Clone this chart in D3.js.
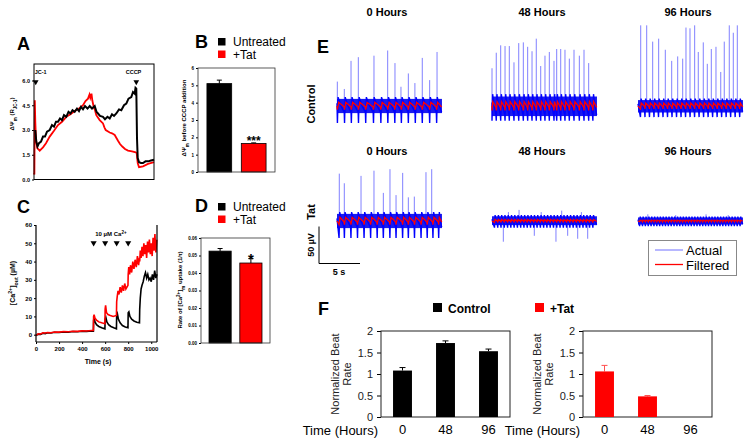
<!DOCTYPE html>
<html><head><meta charset="utf-8">
<script src="https://cdn.jsdelivr.net/npm/d3@7"></script>
<style>body{margin:0;background:#fff}svg{display:block;font-family:Arial,"Liberation Sans",sans-serif}</style>
</head><body><svg id="c" width="749" height="444"></svg>
<script>
// ---------------- DATA ----------------
// Panel A: delta Psi_m traces [time (a.u. s), R_JC-1]
const aRedTrace = [[0,0.4],[4,0.3],[8,4.8],[13,3.5],[20,2.4],[33,1.9],[57,1.75],[90,1.95],[120,2.2],[157,2.6],[200,2.95],[240,3.3],[280,3.5],[323,3.8],[365,3.95],[407,4.15],[450,4.3],[490,4.5],[515,4.75],[540,4.9],[555,5.15],[563,4.95],[575,5.2],[583,4.8],[597,4.4],[610,4.2],[623,3.9],[657,3.6],[690,3.4],[705,3.15],[717,3.0],[757,2.85],[780,2.8],[807,2.7],[840,2.35],[860,2.15],[883,2.0],[910,1.85],[940,1.75],[980,1.7],[1017,1.65],[1027,1.6],[1037,1.0],[1050,0.75],[1090,0.8],[1140,0.95],[1200,1.05]];
const aBlackTrace = [[13,3.0],[23,2.3],[35,2.0],[50,2.2],[70,2.3],[90,2.6],[110,2.6],[130,2.9],[157,3.0],[180,3.3],[200,3.2],[220,3.5],[240,3.5],[260,3.7],[280,3.6],[300,3.9],[323,3.8],[345,4.1],[365,4.0],[385,4.2],[407,4.1],[430,4.3],[450,4.15],[470,4.4],[490,4.25],[510,4.45],[535,4.3],[557,4.45],[580,4.3],[607,4.45],[625,4.1],[640,4.0],[660,3.85],[690,3.8],[710,3.65],[735,3.8],[757,3.7],[780,3.95],[800,3.85],[823,4.0],[850,4.25],[873,4.2],[900,4.5],[923,4.6],[945,4.9],[973,5.0],[990,5.3],[1007,5.2],[1015,5.55],[1023,5.5],[1030,2.5],[1037,1.3],[1050,1.05],[1070,1.0],[1090,1.0],[1115,1.1],[1140,1.1],[1170,1.15],[1200,1.2]];
const aYTicks = [0, 1.5, 3, 4.5, 6];
const aMarkerTimes = [17, 1023];
const aMarkerLabels = ["JC-1", "CCCP"];

// Panel B
const bCategories = ["Untreated", "+Tat"];
const bValues = [5.1, 1.65];
const bErrors = [0.2, 0.03];
const bYTicks = [0, 1, 2, 3, 4, 5, 6];

// Panel C: [time s, Ca µM]
const cBlackTrace = [[0,-0.5],[20,0.3],[40,0.2],[60,0.8],[80,0.6],[100,1],[130,0.9],[160,1.3],[200,1.2],[240,1.5],[280,1.4],[320,1.7],[360,1.6],[400,1.9],[440,1.8],[480,2.1],[498,2],[500,8],[505,9],[512,7],[525,5.5],[545,4.5],[570,3.8],[598,3.2],[600,8.5],[606,9.5],[615,7],[630,5.5],[650,4.5],[675,3.8],[698,3.2],[700,10.5],[706,11.5],[715,8.5],[730,6.5],[750,5],[775,4.2],[798,3.8],[800,12],[806,12.5],[815,10],[830,8.5],[850,7.5],[875,6.8],[898,6.5],[900,14],[905,20],[912,25],[920,27],[930,29],[940,32],[950,34],[960,31],[970,33],[980,30],[990,31],[1000,29],[1010,33],[1020,30],[1030,35],[1040,31],[1050,33]];
const cRedTrace = [[0,-0.3],[20,0.5],[40,0.4],[60,1],[80,0.9],[100,1.2],[130,1.1],[160,1.5],[200,1.4],[240,1.7],[280,1.6],[320,1.9],[360,1.8],[400,2.1],[440,2],[480,2.3],[498,2.3],[500,10],[504,11],[512,9],[525,8],[545,7],[570,6.5],[598,6],[600,14],[604,16],[612,12],[625,11],[645,10.5],[670,10],[698,10.5],[700,18],[705,21],[712,24],[720,22],[730,26],[740,23],[750,27],[760,24],[770,28],[780,25],[798,27],[800,33],[805,37],[812,33],[820,38],[830,34],[840,40],[850,36],[860,41],[870,37],[880,43],[890,38],[898,42],[900,40],[905,46],[912,42],[920,48],[928,43],[936,50],[944,44],[952,49],[960,42],[968,51],[976,45],[984,52],[992,44],[1000,50],[1008,43],[1016,53],[1024,46],[1032,55],[1040,45],[1048,52]];
const cXTicks = [0, 200, 400, 600, 800, 1000];
const cYTicks = [0, 10, 20, 30, 40, 50, 60];
const cAdditionTimes = [500, 600, 700, 800];

// Panel D
const dCategories = ["Untreated", "+Tat"];
const dValues = [0.0525, 0.0457];
const dErrors = [0.0015, 0.0025];
const dYTicks = [0, 0.01, 0.02, 0.03, 0.04, 0.05, 0.06];

// Panel E: recordings (time s, amplitude µV)
const eColumns = ["0 Hours", "48 Hours", "96 Hours"];
const eRowLabels = ["Control", "Tat"];
const eCtrl0SpikeT = [0.04,0.89,1.71,2.6,4.51,6.18,7.07,7.8,8.7,9.5,10.4,11.3,12.2];
const eCtrl0SpikeA = [33,23,61,66,68,75,58,26,44,31,65,35,73];
const eCtrl48SpikeT = [0,0.52,1.06,1.59,2.11,2.68,3.26,3.82,4.35,4.88,5.40,5.94,6.46,6.99,7.56,7.89,8.38,8.90,9.43,10.0,10.65,11.22,11.79];
const eCtrl48SpikeA = [51,72,82,81,81,59,85,86,80,74,91,54,68,73,61,77,77,76,64,76,68,76,58];
const eCtrl96SpikeT = [0.33,1.06,1.79,2.52,3.33,4.11,4.84,5.45,5.85,6.34,6.91,7.35,7.96,8.45,8.94,9.51,10.09,10.52,11.13,11.62,12.11];
const eCtrl96SpikeA = [109,109,87,91,76,61,67,64,106,105,109,73,86,57,77,80,46,87,109,99,109];
const eTat0SpikeT = [0.28,0.89,2.93,4.51,5.65,6.46,7.2,8.01,8.7,9.43,10.85,11.55];
const eTat0SpikeA = [64,51,61,68,38,70,35,65,32,33,66,70];
const eTat48SpikeT = [1.38,2.0,3.3,5.16,6.0,7.8,8.5,9.23,10.45,10.9,11.67];
const eTat48SpikeA = [-28,12,15,-20,12,-28,14,-20,-24,12,-24];
const eTat96SpikeT = [1.2,4.6,8.3,11.0];
const eTat96SpikeA = [9,8,9,8];
const eCtrl0Beats = [0.05,0.92,1.75,2.62,3.5,4.45,5.35,6.2,7.05,7.85,8.7,9.55,10.4,11.3,12.15];
const eCtrl48Beats = [0,0.52,1.06,1.59,2.11,2.68,3.26,3.82,4.35,4.88,5.40,5.94,6.46,6.99,7.56,7.89,8.38,8.90,9.43,10.0,10.65,11.22,11.79,12.3];
const eCtrl96Beats = [0.3,0.85,1.4,1.95,2.5,3.05,3.6,4.15,4.7,5.25,5.8,6.35,6.9,7.45,8.0,8.55,9.1,9.65,10.2,10.75,11.3,11.85,12.4];
const eTat0Beats = [0.25,0.9,1.7,2.5,3.3,4.1,4.9,5.65,6.45,7.2,8.0,8.7,9.45,10.25,11.0,11.7,12.4];
const eTat48Beats = [0.3,0.7,1.1,1.5,1.9,2.3,2.7,3.1,3.5,3.9,4.3,4.7,5.1,5.5,5.9,6.3,6.7,7.1,7.5,7.9,8.3,8.7,9.1,9.5,9.9,10.3,10.7,11.1,11.5,11.9,12.3];
const eTat96Beats = [0.2,0.55,0.9,1.25,1.6,1.95,2.3,2.65,3.0,3.35,3.7,4.05,4.4,4.75,5.1,5.45,5.8,6.15,6.5,6.85,7.2,7.55,7.9,8.25,8.6,8.95,9.3,9.65,10.0,10.35,10.7,11.05,11.4,11.75,12.1,12.45];
// band envelope per trace: [upper µV, lower µV, beat dip µV, filtered swing µV]
const eCtrl0Env = [12, 12, 23, 5];
const eCtrl48Env = [16, 17, 20, 6];
const eCtrl96Env = [10, 11, 15, 4];
const eTat0Env = [12, 12, 23, 5];
const eTat48Env = [8, 7, 9, 2];
const eTat96Env = [6, 6, 7, 1];
const eScaleBarUV = 50;
const eScaleBarS = 5;
const eLegend = ["Actual", "Filtered"];

// Panel F
const fCategories = ["0", "48", "96"];
const fControl = [1.08, 1.72, 1.53];
const fControlErr = [0.07, 0.05, 0.05];
const fTat = [1.06, 0.48, 0];
const fTatErr = [0.14, 0.02, 0];
const fYTicks = [0, 0.5, 1, 1.5, 2];
const fLegend = ["Control", "+Tat"];

// ---------------- DRAWING ----------------
const svg = d3.select("#c");
svg.append("rect").attr("width", 749).attr("height", 444).attr("fill", "#fff");
const RED = "#ff0000";

function letter(x, y, t) {
  svg.append("text").attr("x", x).attr("y", y).attr("font-size", 18).attr("font-weight", "bold").text(t);
}
function styleAxis(g, size, bold) {
  g.select(".domain").remove();
  g.selectAll("text").attr("font-size", size).attr("font-weight", bold ? "bold" : "normal")
    .attr("font-family", "Arial, 'Liberation Sans', sans-serif").attr("fill", "#000");
  g.selectAll(".tick line").attr("stroke", "#000");
}
function richText(parent, x, y, parts, size, rotate, anchor) {
  const t = parent.append("text").attr("font-size", size).attr("font-weight", "bold")
    .attr("text-anchor", anchor || "middle")
    .attr("transform", `translate(${x},${y})` + (rotate ? " rotate(-90)" : ""));
  parts.forEach(p => {
    const s = t.append("tspan").text(p[0]);
    if (p[1] === "sub") s.attr("baseline-shift", "sub").attr("font-size", size * 0.75);
    if (p[1] === "sup") s.attr("baseline-shift", "super").attr("font-size", size * 0.75);
  });
  return t;
}

// ===== Panel A =====
letter(17, 50, "A");
{
  const x = d3.scaleLinear().domain([0, 1200]).range([34, 154]);
  const y = d3.scaleLinear().domain([0, 7]).range([179.5, 64]);
  const g = svg.append("g");
  const ax = g.append("g").attr("transform", "translate(34,0)")
    .call(d3.axisLeft(y).tickValues(aYTicks).tickSize(2).tickPadding(2).tickFormat(d3.format(".1f")));
  styleAxis(ax, 5.5, true);
  const line = d3.line().x(d => x(d[0])).y(d => y(d[1]));
  g.append("path").attr("d", line(aRedTrace)).attr("fill", "none").attr("stroke", RED).attr("stroke-width", 1.8);
  g.append("path").attr("d", line(aBlackTrace)).attr("fill", "none").attr("stroke", "#000").attr("stroke-width", 2);
  g.append("rect").attr("x", 34).attr("y", 64).attr("width", 120).attr("height", 115.5)
    .attr("fill", "none").attr("stroke", "#000").attr("stroke-width", 1);
  aMarkerTimes.forEach((t, i) => {
    g.append("path").attr("d", d3.symbol(d3.symbolTriangle, 14)())
      .attr("transform", `translate(${x(t)},82) rotate(180)`).attr("fill", "#000");
    g.append("text").attr("x", i === 0 ? x(t) - 1 : x(t) + 5).attr("y", 74)
      .attr("text-anchor", i === 0 ? "start" : "end")
      .attr("font-size", 5.5).attr("font-weight", "bold").text(aMarkerLabels[i]);
  });
  richText(g, 14, 114, [["ΔΨ"], ["m", "sub"], [" (R"], ["JC-1", "sub"], [")"]], 6, true);
}

// ===== Bar panels B & D =====
function smallBars(opt) {
  const g = svg.append("g");
  const x = d3.scaleBand().domain(opt.cats).range(opt.xr).paddingInner(0.28).paddingOuter(0.26);
  const y = d3.scaleLinear().domain(opt.yd).range(opt.yr);
  const ax = g.append("g").attr("transform", `translate(${opt.xr[0]},0)`)
    .call(d3.axisLeft(y).tickValues(opt.ticks).tickSize(2).tickPadding(2).tickFormat(opt.fmt));
  styleAxis(ax, 4.5, true);
  opt.cats.forEach((c, i) => {
    const cx = x(c) + x.bandwidth() / 2;
    g.append("line").attr("x1", cx).attr("x2", cx).attr("y1", y(opt.vals[i])).attr("y2", y(opt.vals[i] + opt.errs[i]))
      .attr("stroke", "#000").attr("stroke-width", 1);
    g.append("line").attr("x1", cx - 2.5).attr("x2", cx + 2.5).attr("y1", y(opt.vals[i] + opt.errs[i])).attr("y2", y(opt.vals[i] + opt.errs[i]))
      .attr("stroke", "#000").attr("stroke-width", 1);
    g.append("rect").attr("x", x(c)).attr("y", y(opt.vals[i])).attr("width", x.bandwidth())
      .attr("height", y(opt.yd[0]) - y(opt.vals[i])).attr("fill", i === 0 ? "#000" : RED).attr("stroke", "#000").attr("stroke-width", 0.8);
  });
  g.append("rect").attr("x", opt.xr[0]).attr("y", opt.yr[1]).attr("width", opt.xr[1] - opt.xr[0]).attr("height", opt.yr[0] - opt.yr[1])
    .attr("fill", "none").attr("stroke", "#333").attr("stroke-width", 0.8);
  // legend
  opt.cats.forEach((c, i) => {
    g.append("rect").attr("x", 218).attr("y", opt.legY + i * 12.5).attr("width", 7.5).attr("height", 7.5).attr("fill", i === 0 ? "#000" : RED);
    g.append("text").attr("x", 233).attr("y", opt.legY + 8 + i * 12.5).attr("font-size", 12).text(c);
  });
  const sx = x(opt.cats[1]) + x.bandwidth() / 2;
  g.append("text").attr("x", sx).attr("y", y(opt.vals[1] + opt.errs[1]) + opt.starDy).attr("text-anchor", "middle")
    .attr("font-size", opt.starSize).attr("font-weight", "bold").text(opt.star);
  return g;
}
letter(195, 48, "B");
{
  const g = smallBars({cats: bCategories, vals: bValues, errs: bErrors, xr: [198, 275], yd: [0, 6], yr: [172, 68],
    ticks: bYTicks, fmt: d3.format("d"), legY: 38, star: "***", starSize: 12, starDy: 2});
  richText(g, 186, 118, [["ΔΨ"], ["m", "sub"], [" before CCCP addition"]], 6, true);
}
letter(195, 212, "D");
{
  const g = smallBars({cats: dCategories, vals: dValues, errs: dErrors, xr: [201, 270], yd: [0, 0.06], yr: [343, 238],
    ticks: dYTicks, fmt: d3.format(".2f"), legY: 203, star: "*", starSize: 15, starDy: 5});
  richText(g, 182, 290, [["Rate of [Ca"], ["2+", "sup"], ["]"], ["m", "sub"], [" uptake (1/τ)"]], 6, true);
}

// ===== Panel C =====
letter(17, 213, "C");
{
  const x = d3.scaleLinear().domain([0, 1050]).range([36, 157]);
  const y = d3.scaleLinear().domain([-4, 60]).range([342, 225]);
  const g = svg.append("g");
  const ay = g.append("g").attr("transform", "translate(36,0)")
    .call(d3.axisLeft(y).tickValues(cYTicks).tickSize(2).tickPadding(2));
  styleAxis(ay, 6, true);
  const axx = g.append("g").attr("transform", "translate(0,342)")
    .call(d3.axisBottom(x).tickValues(cXTicks).tickSize(2).tickPadding(3).tickFormat(d3.format("d")));
  styleAxis(axx, 6, true);
  const line = d3.line().x(d => x(d[0])).y(d => y(d[1]));
  g.append("path").attr("d", line(cBlackTrace)).attr("fill", "none").attr("stroke", "#000").attr("stroke-width", 1.6);
  g.append("path").attr("d", line(cRedTrace)).attr("fill", "none").attr("stroke", RED).attr("stroke-width", 1.6);
  g.append("line").attr("x1", 36).attr("x2", 36).attr("y1", 225).attr("y2", 342).attr("stroke", "#000").attr("stroke-width", 1.2);
  g.append("line").attr("x1", 36).attr("x2", 157).attr("y1", 342).attr("y2", 342).attr("stroke", "#000").attr("stroke-width", 1.2);
  g.append("line").attr("x1", 157).attr("x2", 157).attr("y1", 225).attr("y2", 342).attr("stroke", "#000").attr("stroke-width", 1.2);
  cAdditionTimes.forEach(t => {
    g.append("path").attr("d", d3.symbol(d3.symbolTriangle, 16)())
      .attr("transform", `translate(${x(t)},243) rotate(180)`).attr("fill", "#000");
  });
  richText(g, x(d3.mean(cAdditionTimes)), 236, [["10 µM Ca"], ["2+", "sup"]], 6, false);
  g.append("text").attr("x", 98).attr("y", 364).attr("text-anchor", "middle").attr("font-size", 7).attr("font-weight", "bold").text("Time (s)");
  richText(g, 15, 283, [["[Ca"], ["2+", "sup"], ["]"], ["out", "sub"], [" (µM)"]], 7, true);
}

// ===== Panel E =====
letter(317, 53, "E");
{
  const g = svg.append("g");
  const colX = [337, 492, 638];
  const rowY = [106, 221];
  const titleY = [16, 155];
  const traces = [
    [eCtrl0SpikeT, eCtrl0SpikeA, eCtrl0Beats, eCtrl0Env],
    [eCtrl48SpikeT, eCtrl48SpikeA, eCtrl48Beats, eCtrl48Env],
    [eCtrl96SpikeT, eCtrl96SpikeA, eCtrl96Beats, eCtrl96Env],
    [eTat0SpikeT, eTat0SpikeA, eTat0Beats, eTat0Env],
    [eTat48SpikeT, eTat48SpikeA, eTat48Beats, eTat48Env],
    [eTat96SpikeT, eTat96SpikeA, eTat96Beats, eTat96Env]
  ];
  const pxPerS = 8.2, pxPerUV = 0.74, dur = 12.8;
  eRowLabels.forEach((lab, r) => {
    eColumns.forEach((c, k) => {
      g.append("text").attr("x", colX[k] + 50).attr("y", titleY[r]).attr("text-anchor", "middle")
        .attr("font-size", 11).attr("font-weight", "bold").text(c);
      const [st, sa, beats, env] = traces[r * 3 + k];
      const x = d3.scaleLinear().domain([0, dur]).range([colX[k], colX[k] + dur * pxPerS]);
      const y = d3.scaleLinear().domain([0, 1]).range([rowY[r], rowY[r] - pxPerUV]);
      const [hi, lo, dip, rs] = env;
      // spikes (light blue)
      st.forEach((t, i) => {
        g.append("line").attr("x1", x(t)).attr("x2", x(t)).attr("y1", y(0)).attr("y2", y(sa[i]))
          .attr("stroke", "#8080ff").attr("stroke-width", 1);
      });
      // band
      g.append("rect").attr("x", x(0)).attr("width", x(dur) - x(0)).attr("y", y(hi * 0.8)).attr("height", y(-lo * 0.8) - y(hi * 0.8))
        .attr("fill", "#1a1aee");
      const pts = [[0, hi * 0.3]];
      const rpts = [[0, 0]];
      beats.forEach((b, i) => {
        const n = i < beats.length - 1 ? beats[i + 1] : dur;
        const gap = n - b;
        pts.push([b, -dip], [Math.min(b + 0.08, dur), hi], [Math.min(b + gap * 0.45, dur), hi * 0.1], [Math.min(n - 0.04, dur), -lo * 0.7]);
        rpts.push([b, -rs], [Math.min(b + gap * 0.18, dur), rs], [Math.min(n - 0.03, dur), -rs * 0.3]);
      });
      const ln = d3.line().x(d => x(d[0])).y(d => y(d[1]));
      g.append("path").attr("d", ln(pts)).attr("fill", "none").attr("stroke", "#0000ff").attr("stroke-width", 1.4);
      g.append("path").attr("d", ln(rpts)).attr("fill", "none").attr("stroke", RED).attr("stroke-width", 1.3);
    });
    g.append("text").attr("transform", `translate(315,${r === 0 ? 104 : 212}) rotate(-90)`).attr("text-anchor", "middle")
      .attr("font-size", 11).attr("font-weight", "bold").text(lab);
  });
  // scale bar
  const bx = 319, by = 263.5;
  g.append("path").attr("d", `M${bx},${by - eScaleBarUV * pxPerUV}V${by}H${bx + eScaleBarS * pxPerS}`)
    .attr("fill", "none").attr("stroke", "#000").attr("stroke-width", 1);
  g.append("text").attr("transform", `translate(314,245) rotate(-90)`).attr("text-anchor", "middle")
    .attr("font-size", 9).attr("font-weight", "bold").text(eScaleBarUV + " µV");
  g.append("text").attr("x", 339).attr("y", 275).attr("text-anchor", "middle")
    .attr("font-size", 9).attr("font-weight", "bold").text(eScaleBarS + " s");
  // legend
  g.append("rect").attr("x", 648.5).attr("y", 240.5).attr("width", 88).attr("height", 35)
    .attr("fill", "#fff").attr("stroke", "#888").attr("stroke-width", 1);
  eLegend.forEach((l, i) => {
    g.append("line").attr("x1", 655).attr("x2", 683).attr("y1", 250 + i * 14.5).attr("y2", 250 + i * 14.5)
      .attr("stroke", i === 0 ? "#9090ff" : RED).attr("stroke-width", 1.3);
    g.append("text").attr("x", 686).attr("y", 255 + i * 14.5).attr("font-size", 13).text(l);
  });
}

// ===== Panel F =====
letter(318, 315, "F");
{
  const g = svg.append("g");
  fLegend.forEach((l, i) => {
    const lx = i === 0 ? 433 : 535;
    g.append("rect").attr("x", lx).attr("y", 303).attr("width", 9).attr("height", 9).attr("fill", i === 0 ? "#000" : RED);
    g.append("text").attr("x", lx + 15).attr("y", 313).attr("font-size", 12).attr("font-weight", "bold").text(l);
  });
  const y = d3.scaleLinear().domain([0, 2]).range([417, 331]);
  [[381, fControl, fControlErr, "#000", "#000"], [583, fTat, fTatErr, RED, "#ff5050"]].forEach(([x0, vals, errs, col, ecol]) => {
    const x = d3.scaleBand().domain(fCategories).range([x0, x0 + 129]).paddingInner(0.56).paddingOuter(0.28);
    const ay = g.append("g").attr("transform", `translate(${x0},0)`)
      .call(d3.axisLeft(y).tickValues(fYTicks).tickSize(4).tickPadding(4).tickFormat(d3.format("")));
    styleAxis(ay, 11, false);
    ay.selectAll("text").attr("fill", "#222");
    g.append("rect").attr("x", x0).attr("y", 331).attr("width", 129).attr("height", 86)
      .attr("fill", "none").attr("stroke", "#222").attr("stroke-width", 1);
    fCategories.forEach((c, i) => {
      const cx = x(c) + x.bandwidth() / 2;
      if (errs[i] > 0) {
        g.append("line").attr("x1", cx).attr("x2", cx).attr("y1", y(vals[i])).attr("y2", y(vals[i] + errs[i])).attr("stroke", ecol).attr("stroke-width", 1);
        g.append("line").attr("x1", cx - 3).attr("x2", cx + 3).attr("y1", y(vals[i] + errs[i])).attr("y2", y(vals[i] + errs[i])).attr("stroke", ecol).attr("stroke-width", 1);
      }
      g.append("rect").attr("x", x(c)).attr("y", y(vals[i])).attr("width", x.bandwidth()).attr("height", y(0) - y(vals[i])).attr("fill", col);
      g.append("text").attr("x", cx).attr("y", 434).attr("text-anchor", "middle").attr("font-size", 13).text(c);
    });
    g.append("text").attr("x", x0 - 3).attr("y", 435).attr("text-anchor", "end").attr("font-size", 13).text("Time (Hours)");
    const lt = g.append("text").attr("transform", `translate(${x0 - 42},374) rotate(-90)`).attr("text-anchor", "middle").attr("font-size", 11).attr("fill", "#222");
    lt.append("tspan").attr("x", 0).attr("dy", 0).text("Normalized Beat");
    lt.append("tspan").attr("x", 0).attr("dy", 12).text("Rate");
  });
}
</script></body></html>
